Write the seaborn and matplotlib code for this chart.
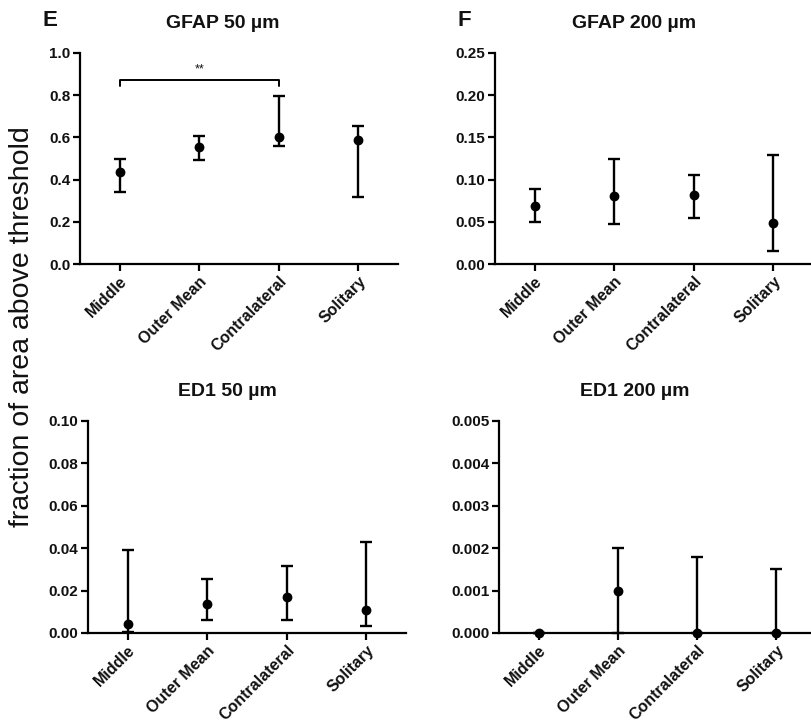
import matplotlib
matplotlib.use("Agg")
import matplotlib.pyplot as plt
import numpy as np
import pandas as pd
import seaborn as sns

# data
groups = ["Middle", "Outer Mean", "Contralateral", "Solitary"]

gfap50_mean = [0.434, 0.553, 0.600, 0.587]
gfap50_low = [0.341, 0.494, 0.560, 0.316]
gfap50_high = [0.500, 0.607, 0.798, 0.656]

gfap200_mean = [0.069, 0.080, 0.082, 0.048]
gfap200_low = [0.050, 0.047, 0.054, 0.015]
gfap200_high = [0.089, 0.125, 0.106, 0.129]

ed50_mean = [0.0044, 0.0139, 0.0169, 0.0109]
ed50_low = [0.0005, 0.0063, 0.0063, 0.0035]
ed50_high = [0.0390, 0.0255, 0.0318, 0.0428]

ed200_mean = [0.0, 0.0010, 0.0, 0.0]
ed200_low = [0.0, 0.0, 0.0, 0.0]
ed200_high = [0.0, 0.0020, 0.00179, 0.0015]

sns.set_theme(style="ticks")
plt.rcParams["font.family"] = ["Liberation Sans", "DejaVu Sans"]
plt.rcParams["axes.linewidth"] = 1.6
plt.rcParams["axes.edgecolor"] = "black"
plt.rcParams["text.color"] = "#111111"
plt.rcParams["xtick.color"] = "black"
plt.rcParams["ytick.color"] = "black"
plt.rcParams["xtick.labelcolor"] = "#111111"
plt.rcParams["ytick.labelcolor"] = "#111111"

fig = plt.figure(figsize=(8.11, 7.25), dpi=100)
W, H = 811, 725


def add_axes(left, top, right, bottom):
    # pixel box -> figure fraction
    return fig.add_axes([left / W, 1 - bottom / H, (right - left) / W, (bottom - top) / H])


def draw_panel(ax, title, title_x, mean, low, high, ymax, step, fmt):
    df = pd.DataFrame({"group": groups, "mean": mean, "low": low, "high": high})
    x = np.arange(len(groups))
    yerr = [df["mean"] - df["low"], df["high"] - df["mean"]]
    ax.errorbar(x, df["mean"], yerr=yerr, fmt="none", ecolor="black",
                elinewidth=1.7, capsize=4, capthick=1.7, clip_on=False, zorder=3)
    sns.scatterplot(data=df, x="group", y="mean", ax=ax, color="black", s=50,
                    edgecolor="black", linewidth=0, clip_on=False, zorder=4, legend=False)
    ax.set_xlim(-0.5, 3.5)
    ax.set_ylim(0, ymax)
    ticks = np.arange(0, ymax + step / 2, step)
    ax.set_yticks(ticks)
    ax.set_yticklabels([fmt.format(t) for t in ticks], fontsize=11, fontweight="bold")
    ax.set_xticks(x)
    ax.set_xticklabels(groups, rotation=45, ha="right", rotation_mode="anchor",
                       fontsize=11.5, fontweight="bold")
    ax.tick_params(axis="both", length=5, width=1.6, pad=2)
    ax.set_xlabel("")
    ax.set_ylabel("")
    ax.set_title(title, x=title_x, fontsize=14, fontweight="bold", pad=18)
    sns.despine(ax=ax)
    ax.set_facecolor("none")


ax_e = add_axes(80, 53, 398, 264)
draw_panel(ax_e, "GFAP 50 µm", 0.45, gfap50_mean, gfap50_low, gfap50_high, 1.0, 0.2, "{:.1f}")

ax_f = add_axes(495, 53, 813, 264)
draw_panel(ax_f, "GFAP 200 µm", 0.437, gfap200_mean, gfap200_low, gfap200_high, 0.25, 0.05, "{:.2f}")

ax_g = add_axes(88, 421, 406, 633)
draw_panel(ax_g, "ED1 50 µm", 0.437, ed50_mean, ed50_low, ed50_high, 0.10, 0.02, "{:.2f}")

ax_h = add_axes(499, 421, 816, 633)
draw_panel(ax_h, "ED1 200 µm", 0.427, ed200_mean, ed200_low, ed200_high, 0.005, 0.001, "{:.3f}")

# significance bracket between Middle and Contralateral
ax_e.plot([0, 0, 2, 2], [0.842, 0.874, 0.874, 0.842], color="black", lw=1.4)
ax_e.text(1, 0.92, "**", ha="center", va="center", fontsize=9)

# panel letters and shared y label
fig.text(43 / W, 1 - 21 / H, "E", fontsize=16, fontweight="bold", va="center")
fig.text(457 / W, 1 - 21 / H, "F", fontsize=16, fontweight="bold", va="center")
fig.text(22 / W, 1 - 327 / H, "fraction of area above threshold", rotation=90,
         ha="center", va="center", fontsize=20.5)

fig.savefig("out.png", dpi=100)
